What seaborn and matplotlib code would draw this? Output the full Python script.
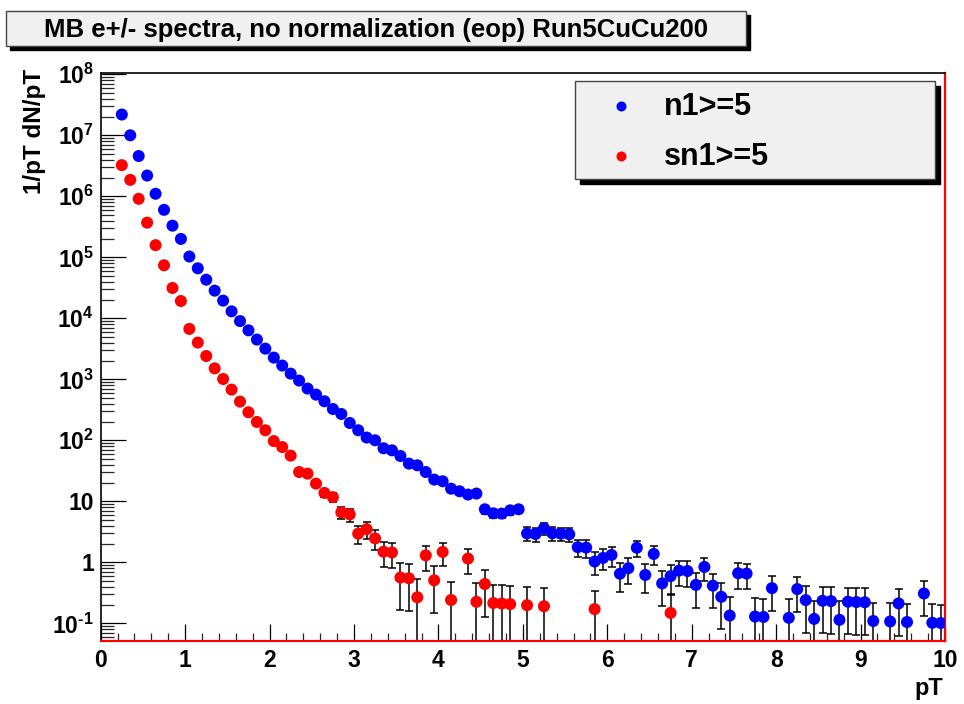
import numpy as np
import pandas as pd
import matplotlib
matplotlib.use("Agg")
import matplotlib.pyplot as plt
import seaborn as sns
from matplotlib.patches import Rectangle
from matplotlib.lines import Line2D
from matplotlib.ticker import FixedLocator, MultipleLocator, LogLocator, NullFormatter

# ---------------- data ----------------
title_text = "MB e+/- spectra, no normalization (eop) Run5CuCu200"
series_names = ["n1>=5", "sn1>=5"]
x_label = "pT"
y_label = "1/pT dN/pT"

blue_pt = [0.25, 0.35, 0.45, 0.55, 0.65, 0.75, 0.85, 0.95, 1.05, 1.15,
           1.25, 1.35, 1.45, 1.55, 1.65, 1.75, 1.85, 1.95, 2.05, 2.15,
           2.25, 2.35, 2.45, 2.55, 2.65, 2.75, 2.85, 2.95, 3.05, 3.15,
           3.25, 3.35, 3.45, 3.55, 3.65, 3.75, 3.85, 3.95, 4.05, 4.15,
           4.25, 4.35, 4.45, 4.55, 4.65, 4.75, 4.85, 4.95,
           5.05, 5.15, 5.25, 5.35, 5.45, 5.55, 5.65, 5.75, 5.85, 5.95,
           6.05, 6.15, 6.25, 6.35, 6.45, 6.55, 6.65, 6.75, 6.85, 6.95,
           7.05, 7.15, 7.25, 7.35, 7.45, 7.55, 7.65, 7.75, 7.85, 7.95,
           8.15, 8.25, 8.35, 8.45, 8.55, 8.65, 8.75, 8.85, 8.95, 9.05,
           9.15, 9.35, 9.45, 9.55, 9.75, 9.85, 9.95]
blue_val = [2.19e7, 1.0e7, 4.57e6, 2.19e6, 1.10e6, 6.0e5, 3.3e5, 2.0e5, 1.03e5, 6.6e4,
            4.3e4, 2.84e4, 1.95e4, 1.30e4, 9.0e3, 6.35e3, 4.48e3, 3.18e3, 2.27e3, 1.68e3,
            1.24e3, 953, 705, 561, 436, 326, 270, 192, 146, 111,
            100, 74, 68.5, 55.3, 41.5, 38.9, 30.2, 22.7, 21.3, 16.1,
            14.6, 12.9, 13.4, 7.4, 6.35, 6.28, 7.11, 7.4,
            2.97, 2.91, 3.62, 2.99, 2.94, 2.88, 1.77, 1.74, 1.03, 1.18,
            1.32, 0.65, 0.80, 1.73, 0.62, 1.37, 0.451, 0.593, 0.73, 0.719,
            0.426, 0.839, 0.414, 0.272, 0.134, 0.662, 0.654, 0.129, 0.127, 0.377,
            0.123, 0.364, 0.240, 0.118, 0.234, 0.231, 0.114, 0.226, 0.223, 0.221,
            0.109, 0.107, 0.212, 0.105, 0.308, 0.102, 0.101]
blue_err = [0] * 43 + [1.1, 1.0, 1.0, 1.05, 1.05,
            0.767, 0.752, 0.830, 0.748, 0.734, 0.721, 0.560, 0.550, 0.419, 0.445,
            0.468, 0.325, 0.358, 0.522, 0.310, 0.458, 0.260, 0.296, 0.326, 0.322,
            0.246, 0.342, 0.239, 0.192, 0.134, 0.296, 0.292, 0.129, 0.127, 0.218,
            0.123, 0.210, 0.170, 0.118, 0.165, 0.163, 0.114, 0.160, 0.158, 0.156,
            0.109, 0.107, 0.150, 0.105, 0.178, 0.102, 0.101]

red_pt = [0.25, 0.35, 0.45, 0.55, 0.65, 0.75, 0.85, 0.95, 1.05, 1.15,
          1.25, 1.35, 1.45, 1.55, 1.65, 1.75, 1.85, 1.95, 2.05, 2.15,
          2.25, 2.35, 2.45, 2.55, 2.65, 2.75, 2.85, 2.95, 3.05, 3.15,
          3.25, 3.35, 3.45, 3.55, 3.65, 3.75, 3.85, 3.95, 4.05, 4.15,
          4.35, 4.45, 4.55, 4.65, 4.75, 4.85, 5.05, 5.25, 5.85, 6.75]
red_val = [3.24e6, 1.86e6, 9.1e5, 3.7e5, 1.58e5, 7.4e4, 3.14e4, 1.92e4, 6.7e3, 4.0e3,
           2.41e3, 1.51e3, 1.01e3, 678, 431, 288, 200, 146, 97, 77.6,
           56.1, 30.2, 28.4, 19.5, 13.7, 11.7, 6.6, 6.1, 2.95, 3.49,
           2.46, 1.49, 1.45, 0.563, 0.548, 0.267, 1.30, 0.506, 1.48, 0.241,
           1.15, 0.225, 0.44, 0.215, 0.211, 0.206, 0.198, 0.190, 0.171, 0.148]
red_err = [0] * 22 + [2.6, 2.2, 1.9, 1.9, 1.51, 1.44, 0.983, 1.05,
           0.870, 0.666, 0.648, 0.398, 0.387, 0.267, 0.581, 0.358, 0.604, 0.241,
           0.514, 0.225, 0.311, 0.215, 0.211, 0.206, 0.198, 0.190, 0.171, 0.148]

y_tick_values = [1e-1, 1, 10, 1e2, 1e3, 1e4, 1e5, 1e6, 1e7, 1e8]
y_tick_labels = [r"$10^{\text{-}1}$", "1", "10", r"$10^{2}$", r"$10^{3}$", r"$10^{4}$",
                 r"$10^{5}$", r"$10^{6}$", r"$10^{7}$", r"$10^{8}$"]
x_ticks = [0, 1, 2, 3, 4, 5, 6, 7, 8, 9, 10]

series_colors = {"n1>=5": "#0000ff", "sn1>=5": "#ff0000"}

# ---------------- style ----------------
sns.set_theme(style="white")
plt.rcParams["font.family"] = ["Liberation Sans", "DejaVu Sans"]
plt.rcParams["font.weight"] = "bold"
plt.rcParams["mathtext.fontset"] = "custom"
plt.rcParams["mathtext.rm"] = "Liberation Sans:bold"
plt.rcParams["mathtext.bf"] = "Liberation Sans:bold"
plt.rcParams["mathtext.default"] = "bf"

W, H = 964, 704
fig = plt.figure(figsize=(W / 100, H / 100), dpi=100)
fig.patch.set_facecolor("white")


def fx(px):
    return px / W


def fy(py):
    return 1 - py / H


ax_l, ax_r, ax_t, ax_b = 100.7, 945.0, 73.3, 640.7
ax = fig.add_axes([fx(ax_l), fy(ax_b), fx(ax_r - ax_l), (ax_b - ax_t) / H])
ax.set_facecolor("white")

df = pd.concat([
    pd.DataFrame({"pT": blue_pt, "value": blue_val, "err": blue_err, "series": series_names[0]}),
    pd.DataFrame({"pT": red_pt, "value": red_val, "err": red_err, "series": series_names[1]}),
], ignore_index=True)

ax.set_yscale("log")

# error bars (drawn beneath markers)
for name in series_names:
    sub = df[(df["series"] == name) & (df["err"] > 0)]
    lower = np.minimum(sub["err"].values, 0.9995 * sub["value"].values)
    ax.errorbar(sub["pT"], sub["value"], yerr=[lower, sub["err"].values],
                fmt="none", ecolor="black", elinewidth=1.1, capsize=2.8,
                capthick=1.1, zorder=2)

sns.scatterplot(data=df, x="pT", y="value", hue="series", palette=series_colors,
                s=75, linewidth=0, legend=False, ax=ax, zorder=3)

ax.set_xlim(0, 10)
ax.set_ylim(10 ** (-(ax_b - 562.3) / 61.0), 10 ** ((562.3 - ax_t) / 61.0))
ax.set_xlabel("")
ax.set_ylabel("")

ax.xaxis.set_major_locator(FixedLocator(x_ticks))
ax.set_xticklabels([str(t) for t in x_ticks])
ax.xaxis.set_minor_locator(MultipleLocator(0.2))
ax.yaxis.set_major_locator(FixedLocator(y_tick_values))
ax.set_yticklabels(y_tick_labels)
ax.yaxis.set_minor_locator(LogLocator(base=10, subs=np.arange(2, 10), numticks=40))
ax.yaxis.set_minor_formatter(NullFormatter())

ax.tick_params(axis="x", which="major", direction="in", length=12.2, width=0.9,
               labelsize=16.5, pad=6, colors="black", bottom=True, top=False)
ax.tick_params(axis="x", which="minor", direction="in", length=6, width=0.9,
               bottom=True, top=False)
ax.tick_params(axis="y", which="major", direction="in", length=18, width=0.9,
               labelsize=16.5, pad=5, colors="black", left=True, right=False)
ax.tick_params(axis="y", which="minor", direction="in", length=9, width=0.9,
               left=True, right=False)
for lab in ax.get_xticklabels() + ax.get_yticklabels():
    lab.set_fontweight("bold")

for side in ["top", "left"]:
    ax.spines[side].set_color("black")
    ax.spines[side].set_linewidth(1.2)
for side in ["right", "bottom"]:
    ax.spines[side].set_color("#ff0000")
    ax.spines[side].set_linewidth(1.6)

# ---------------- title box ----------------
tb_l, tb_t, tb_r, tb_b = 6, 11, 746, 46
sh = 4
fig.patches.append(Rectangle((fx(tb_l + sh), fy(tb_b + sh)), fx(tb_r - tb_l), (tb_b - tb_t) / H,
                             transform=fig.transFigure, facecolor="black", edgecolor="black",
                             zorder=1))
fig.patches.append(Rectangle((fx(tb_l), fy(tb_b)), fx(tb_r - tb_l), (tb_b - tb_t) / H,
                             transform=fig.transFigure, facecolor="#f0f0f0", edgecolor="#444444",
                             linewidth=1.0, zorder=2))
fig.text(fx((tb_l + tb_r) / 2), fy((tb_t + tb_b) / 2 + 1), title_text, ha="center", va="center",
         fontsize=18.5, fontweight="bold", color="black", zorder=3)

# ---------------- legend box ----------------
lg_l, lg_t, lg_r, lg_b = 575, 81, 935, 179
lsh = 5
fig.patches.append(Rectangle((fx(lg_l + lsh), fy(lg_b + lsh)), fx(lg_r - lg_l), (lg_b - lg_t) / H,
                             transform=fig.transFigure, facecolor="black", edgecolor="black",
                             zorder=4))
fig.patches.append(Rectangle((fx(lg_l), fy(lg_b)), fx(lg_r - lg_l), (lg_b - lg_t) / H,
                             transform=fig.transFigure, facecolor="#f0f0f0", edgecolor="#444444",
                             linewidth=1.0, zorder=5))
for name, ly in zip(series_names, [106, 156]):
    fig.add_artist(Line2D([fx(621)], [fy(ly)], transform=fig.transFigure, marker="o",
                          markersize=7.2, markeredgewidth=0, color=series_colors[name],
                          linestyle="none", zorder=6))
    fig.text(fx(664), fy(ly + 1), name, ha="left", va="center", fontsize=22,
             fontweight="bold", color="black", zorder=6)

# ---------------- axis titles ----------------
fig.text(fx(35), fy(69), y_label, rotation=90, ha="center", va="top",
         fontsize=17.5, fontweight="bold", color="black")
fig.text(fx(943), fy(688), x_label, ha="right", va="center",
         fontsize=17, fontweight="bold", color="black")

fig.savefig("out.png", dpi=100, facecolor="white")
